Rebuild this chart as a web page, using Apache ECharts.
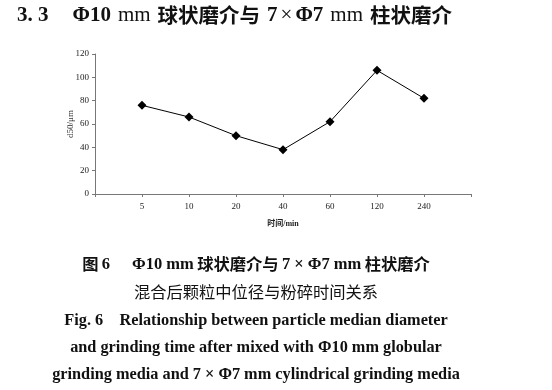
<!DOCTYPE html>
<html><head><meta charset="utf-8">
<script src="https://cdn.jsdelivr.net/npm/echarts@6/dist/echarts.min.js"></script>
<style>html,body{margin:0;padding:0;background:#fff}#c{width:552px;height:390px}</style>
</head><body><div id="c"></div>
<script>
const categories = ['', '5', '10', '20', '40', '60', '120', '240', ''];
const d50Values = [null, 76, 66, 50, 38, 62, 106, 82, null];
const yTicks = { min: 0, max: 120, interval: 20 };

const serif = "'Liberation Serif','Noto Sans CJK SC',serif";
const cjk = "'Noto Sans CJK SC',sans-serif";
const chart = echarts.init(document.getElementById('c'));
chart.setOption({
  backgroundColor: '#fff',
  animation: false,
  grid: { left: 95, right: 81, top: 54, bottom: 196, containLabel: false },
  xAxis: {
    type: 'category', data: categories, boundaryGap: false,
    name: '时间/min', nameLocation: 'middle', nameGap: 26, nameMoveOverlap: false,
    nameTextStyle: { fontSize: 8, fontFamily: serif, color: '#222', fontWeight: 'bold' },
    axisLine: { lineStyle: { color: '#777', width: 1 } },
    axisTick: { show: true, length: 3, lineStyle: { color: '#777' } },
    axisLabel: { fontSize: 9, fontFamily: serif, color: '#222', margin: 8, interval: 0 },
    splitLine: { show: false }
  },
  yAxis: {
    type: 'value', min: yTicks.min, max: yTicks.max, interval: yTicks.interval,
    name: 'd50/μm', nameLocation: 'middle', nameGap: 20, nameMoveOverlap: false,
    nameTextStyle: { fontSize: 9, fontFamily: serif, color: '#333' },
    axisLine: { show: true, lineStyle: { color: '#777', width: 1 } },
    axisTick: { show: true, length: 3, lineStyle: { color: '#777' } },
    axisLabel: { fontSize: 9, fontFamily: serif, color: '#222', margin: 6 },
    splitLine: { show: false }
  },
  series: [{
    type: 'line', data: d50Values, connectNulls: false,
    symbol: 'diamond', symbolSize: 9,
    itemStyle: { color: '#000' },
    lineStyle: { color: '#000', width: 1 }
  }],
  graphic: [
    { type: 'text', x: 17, y: 5, style: {
      text: '{b|3. 3}{s|}{b|Φ10}{t|}{n|mm}{t|}{c|球状磨介与}{t|}{b|7}{u|}{n|×}{u|}{b|Φ7}{t|}{n|mm}{t|}{c|柱状磨介}',
      rich: {
        b: { fontFamily: serif, fontWeight: 'bold', fontSize: 21, fill: '#111' },
        n: { fontFamily: serif, fontWeight: 'normal', fontSize: 21, fill: '#111' },
        s: { width: 24 },
        t: { width: 7 },
        u: { width: 3 },
        c: { fontFamily: cjk, fontWeight: 'bold', fontSize: 20.5, fill: '#111' }
      } } },
    { type: 'text', x: 256, y: 256, style: { align: 'center',
      text: '{c|图} {b|6}{s|}{b|Φ10 mm} {c|球状磨介与} {b|7 × Φ7 mm} {c|柱状磨介}',
      rich: {
        b: { fontFamily: serif, fontWeight: 'bold', fontSize: 16.5, fill: '#111' },
        s: { width: 22 },
        c: { fontFamily: cjk, fontWeight: 'bold', fontSize: 16.3, fill: '#111' }
      } } },
    { type: 'text', x: 256, y: 284, style: { align: 'center',
      text: '混合后颗粒中位径与粉碎时间关系', fontFamily: cjk, fontSize: 16.3, fill: '#111' } },
    { type: 'text', x: 256, y: 313, style: { align: 'center',
      text: 'Fig. 6    Relationship between particle median diameter', fontFamily: serif, fontWeight: 'bold', fontSize: 16.3, fill: '#111' } },
    { type: 'text', x: 256, y: 340, style: { align: 'center',
      text: 'and grinding time after mixed with Φ10 mm globular', fontFamily: serif, fontWeight: 'bold', fontSize: 16.3, fill: '#111' } },
    { type: 'text', x: 256, y: 367, style: { align: 'center',
      text: 'grinding media and 7 × Φ7 mm cylindrical grinding media', fontFamily: serif, fontWeight: 'bold', fontSize: 16.3, fill: '#111' } }
  ]
});
</script></body></html>
